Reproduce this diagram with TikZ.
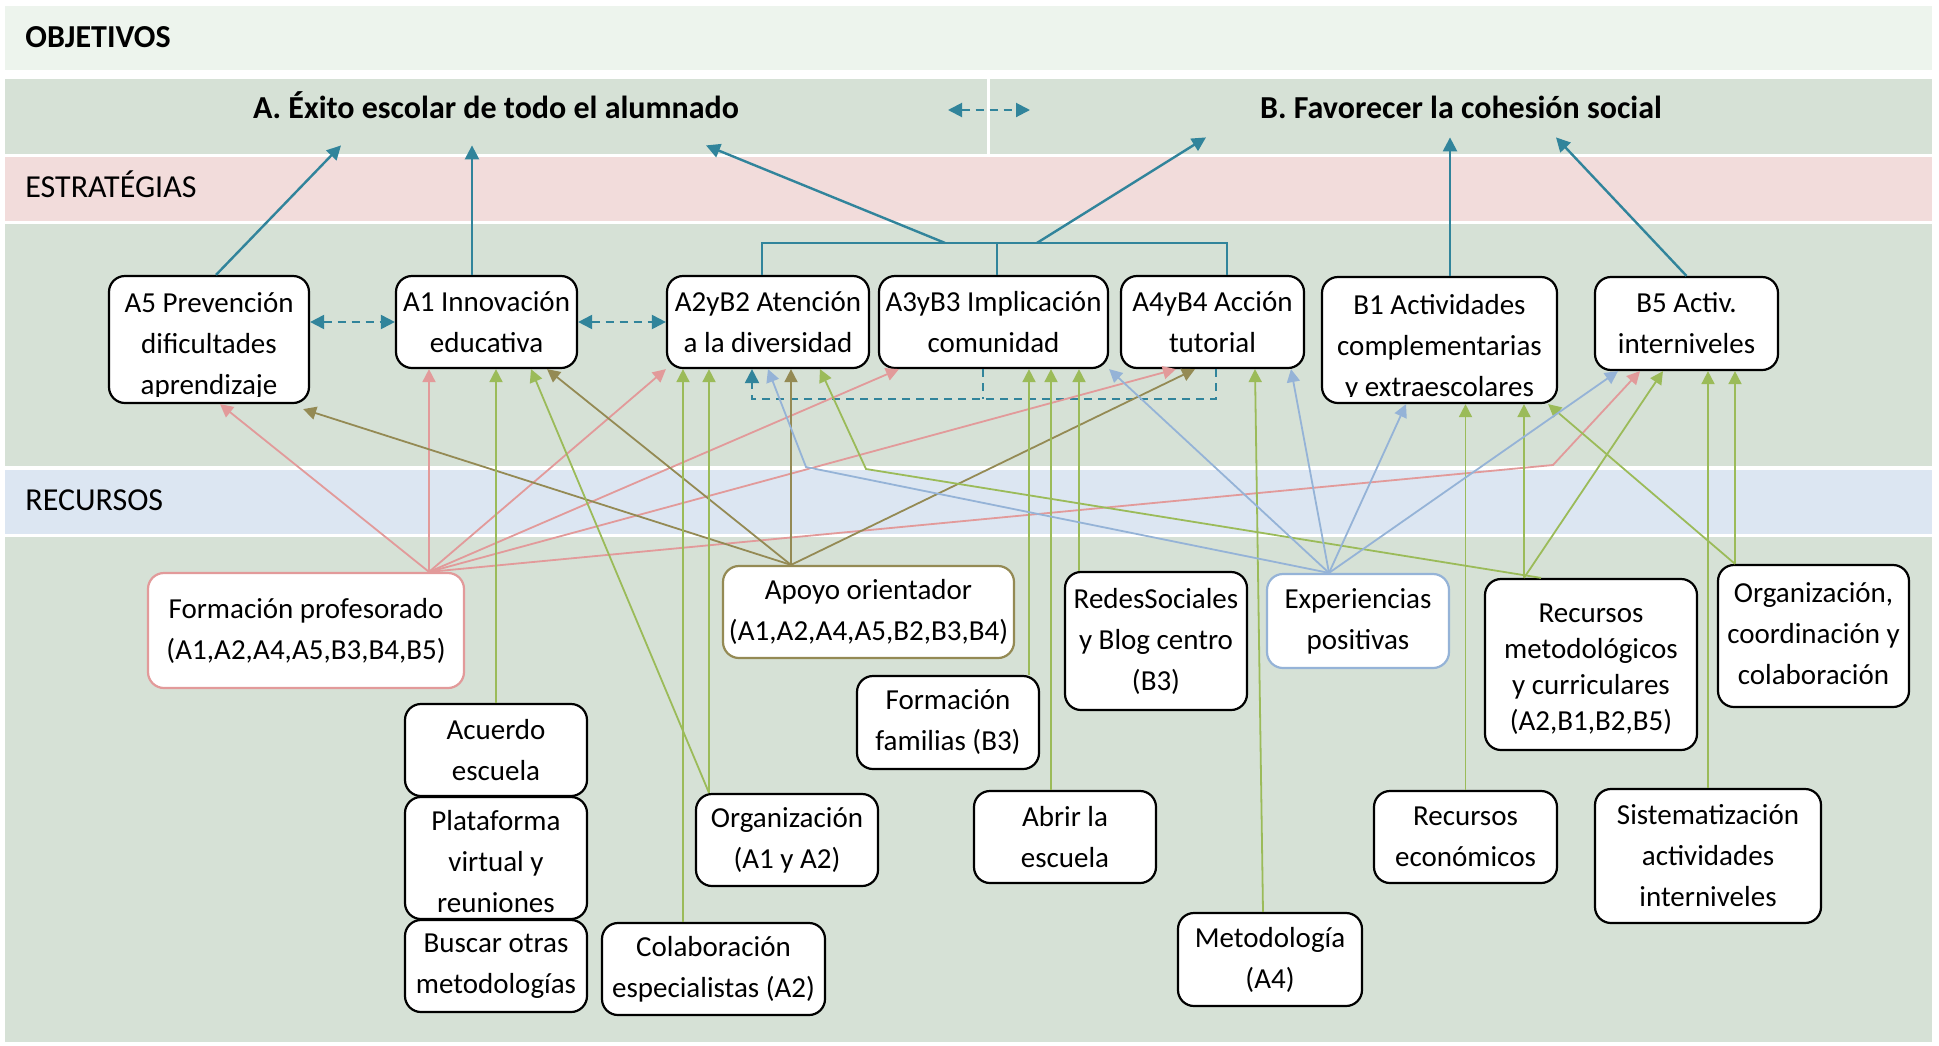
\documentclass[tikz,border=0pt]{standalone}
\usepackage{fontspec}
\setmainfont{Carlito}
\usetikzlibrary{arrows.meta,calc}

\definecolor{fondo}{HTML}{D6E1D6}
\definecolor{fondoclaro}{HTML}{EDF4ED}
\definecolor{rosado}{HTML}{F2DCDB}
\definecolor{celesteclaro}{HTML}{DCE6F2}
\definecolor{petroleo}{HTML}{31849B}
\definecolor{salmon}{HTML}{E29A9A}
\definecolor{oliva}{HTML}{948A54}
\definecolor{pasto}{HTML}{9BBB59}
\definecolor{cielo}{HTML}{95B3D7}

\newcommand{\cuerpo}{\fontsize{14.5pt}{20.5pt}\selectfont}
\newcommand{\rotulo}{\fontsize{16pt}{19pt}\selectfont}

\tikzset{
  caja/.style={draw=black, line width=1.1pt, fill=white, rounded corners=8pt, align=center, inner sep=0pt, font=\cuerpo},
  tam/.style 2 args={minimum width=#1*0.5pt, minimum height=#2*0.5pt},
  recorte/.style 2 args={path picture={
    \clip ([yshift=3.5pt]path picture bounding box.south west) rectangle (path picture bounding box.north east);
    \node[draw=none, fill=none, inner sep=0pt, align=center, font=\cuerpo] at ([yshift=#1]path picture bounding box.center) {#2};}},
  banda/.style={anchor=base west, inner sep=0pt, font=\rotulo},
  titulo/.style={anchor=base, inner sep=0pt, font=\rotulo\bfseries, text height=12pt},
  linobj/.style={draw=petroleo, line width=1.2pt},
  flobj/.style={linobj, -{Triangle[length=7pt,width=7pt]}},
  discont/.style={draw=petroleo, line width=1pt, dash pattern=on 4pt off 3pt},
  discontfl/.style={discont, -{Triangle[length=7pt,width=7pt]}},
  discontdoble/.style={discont, {Triangle[length=7pt,width=7pt]}-{Triangle[length=7pt,width=7pt]}},
  fl/.style={line width=0.9pt, -{Triangle[length=6.5pt,width=6.5pt]}},
  flrosa/.style={fl, draw=salmon},
  floliva/.style={fl, draw=oliva},
  flverde/.style={fl, draw=pasto},
  flceleste/.style={fl, draw=cielo}
}

\begin{document}
\begin{tikzpicture}[x=0.5pt,y=-0.5pt]
\useasboundingbox (0,0) rectangle (1939,1045);

\fill[fondoclaro] (5,6) rectangle (1932,70);
\fill[fondo] (5,79) rectangle (987,154);
\fill[fondo] (990,79) rectangle (1932,154);
\fill[rosado] (5,157) rectangle (1932,221);
\fill[fondo] (5,224) rectangle (1932,466);
\fill[celesteclaro] (5,470) rectangle (1932,534);
\fill[fondo] (5,537) rectangle (1932,1042);

\node[banda, font=\rotulo\bfseries] (obj) at (25,47) {OBJETIVOS};
\node[banda] (est) at (25,197) {ESTRATÉGIAS};
\node[banda] (rec) at (25,510) {RECURSOS};
\node[titulo, text depth=13.5pt] (ObjA) at (496,118) {A. Éxito escolar de todo el alumnado};
\node[titulo, text depth=9.5pt] (ObjB) at (1461,118) {B. Favorecer la cohesión social};

\node[caja, tam={200}{127}, recorte={-3.5pt}{A5 Prevención\\dificultades\\aprendizaje}] (A5) at (209,339.5) {};
\node[caja, tam={181}{92}] (A1) at (486.5,322) {A1 Innovación\\educativa};
\node[caja, tam={202}{92}] (A2) at (768,322) {A2yB2 Atención\\a la diversidad};
\node[caja, tam={229}{92}] (A3) at (993.5,322) {A3yB3 Implicación\\comunidad};
\node[caja, tam={183}{92}] (A4) at (1212.5,322) {A4yB4 Acción\\tutorial};
\node[caja, tam={235}{126}, recorte={-4pt}{B1 Actividades\\complementarias\\y extraescolares}] (B1) at (1439.5,340) {};
\node[caja, tam={183}{93}] (B5) at (1686.5,323.5) {B5 Activ.\\interniveles};

\node[caja, draw=salmon, tam={316}{115}] (Form) at (306,630.5) {Formación profesorado\\(A1,A2,A4,A5,B3,B4,B5)};
\node[caja, draw=oliva, tam={291}{92}] (Apoyo) at (868.5,612) {Apoyo orientador\\(A1,A2,A4,A5,B2,B3,B4)};
\node[caja, tam={182}{92}] (Acu) at (496,750) {Acuerdo\\escuela};
\node[caja, tam={182}{122}] (Plat) at (496,858) {\rule{0pt}{14pt}Plataforma\\virtual y\\reuniones};
\node[caja, tam={182}{92}] (Busc) at (496,966) {Buscar otras\\metodologías};
\node[caja, tam={223}{92}] (Colab) at (713.5,969) {Colaboración\\especialistas (A2)};
\node[caja, tam={182}{92}] (OrgA) at (787,840) {Organización\\(A1 y A2)};
\node[caja, tam={182}{93}] (FFam) at (948,722.5) {Formación\\familias (B3)};
\node[caja, tam={182}{138}] (Redes) at (1156,641) {RedesSociales\\y Blog centro\\(B3)};
\node[caja, draw=cielo, tam={182}{94}] (Exper) at (1358,621) {Experiencias\\positivas};
\node[caja, tam={212}{171}, font=\fontsize{14.5pt}{18pt}\selectfont] (RecMet) at (1591,664.5) {\rule{0pt}{14.3pt}Recursos\\metodológicos\\y curriculares\\(A2,B1,B2,B5)};
\node[caja, tam={191}{142}] (OrgCoord) at (1813.5,636) {Organización,\\coordinación y\\colaboración\rule[-2.5pt]{0pt}{2.5pt}};
\node[caja, tam={182}{92}] (Abrir) at (1065,837) {Abrir la\\escuela};
\node[caja, tam={183}{92}] (RecEco) at (1465.5,837) {Recursos\\económicos};
\node[caja, tam={226}{134}] (Sist) at (1708,856) {Sistematización\\actividades\\interniveles};
\node[caja, tam={184}{93}] (Metod) at (1270,959.5) {Metodología\\(A4)};

\draw[flobj] ($(A5.north)+(7,0)$) -- ($(ObjA.south)+(-155,0)$);
\draw[flobj] ($(A1.north)+(-14.5,0)$) -- ($(ObjA.south)+(-24,0)$);
\coordinate (barra) at ($(A3.north)+(3.5,-32)$);
\draw[linobj] ($(A2.north)+(-6,0)$) |- (barra) -| ($(A4.north)+(14.5,0)$);
\draw[linobj] ($(A3.north)+(3.5,0)$) -- (barra);
\draw[flobj] ($(barra)+(-52,0)$) -- ($(ObjA.south)+(210,0)$);
\draw[flobj] ($(barra)+(40,0)$) -- ($(ObjB.south)+(-255,0)$);
\draw[flobj] ($(B1.north)+(10.5,0)$) -- ($(ObjB.south)+(-11,0)$);
\draw[flobj] (B5.north) -- ($(ObjB.south)+(95,0)$);

\coordinate (dA) at (948,110);
\coordinate (dB) at (1030,110);
\draw[discontdoble] (dA) -- (dB);
\draw[discontdoble] (A5.east |- A1.west) -- (A1.west);
\draw[discontdoble] (A1.east) -- (A2.west);
\draw[discontfl] ($(A4.south)+(3.5,0)$) -- ++(0,30) -| ($(A2.south)+(-16,0)$);
\draw[discont] ($(A3.south)+(-10.5,0)$) -- ++(0,30);

\coordinate (fp) at ($(Form.north)+(123,0)$);
\coordinate (codoR) at (1553,465);
\draw[flrosa] (fp) -- ($(A5.south)+(11,0)$);
\draw[flrosa] (fp) -- (fp |- A1.south);
\draw[flrosa] (fp) -- (A2.south west);
\draw[flrosa] (fp) -- ($(A3.south)+(-94.5,0)$);
\draw[flrosa] (fp) -- ($(A4.south)+(-36.5,0)$);
\draw[flrosa] (fp) -- (codoR) -- ($(B5.south)+(-46.5,0)$);

\coordinate (ao) at ($(Apoyo.north)+(-77.5,0)$);
\draw[floliva] (ao) -- ($(A5.south east)+(-7,5)$);
\draw[floliva] (ao) -- ($(A1.south)+(60.5,0)$);
\draw[floliva] (ao) -- (ao |- A2.south);
\draw[floliva] (ao) -- ($(A4.south)+(-17.5,0)$);

\draw[flverde] (Acu.north) -- (Acu.north |- A1.south);
\coordinate (oa) at ($(OrgA.north)+(-78,0)$);
\draw[flverde] (oa) -- (oa |- A2.south);
\draw[flverde] (oa) -- ($(A1.south)+(44.5,0)$);
\coordinate (co) at ($(Colab.north)+(-30.5,0)$);
\draw[flverde] (co) -- (co |- A2.south);
\coordinate (rm) at ($(RecMet.north)+(-67,0)$);
\coordinate (codoV) at (866,469);
\draw[flverde] (rm) -- (rm |- B1.south);
\draw[flverde] (rm) -- ($(B5.south)+(-23.5,0)$);
\draw[flverde] ($(RecMet.north)+(-50,0)$) -- (codoV) -- ($(A2.south)+(52,0)$);
\coordinate (oc) at ($(OrgCoord.north)+(-78.5,0)$);
\draw[flverde] (oc) -- (oc |- B5.south);
\draw[flverde] (oc) -- ($(B1.south east)+(-10,0)$);
\draw[flverde] (Sist.north) -- (Sist.north |- B5.south);
\draw[flverde] (RecEco.north) -- (RecEco.north |- B1.south);
\coordinate (ab) at ($(Abrir.north)+(-14,0)$);
\draw[flverde] (ab) -- (ab |- A3.south);
\coordinate (ff) at ($(FFam.north)+(81,0)$);
\draw[flverde] (ff) -- (ff |- A3.south);
\coordinate (rs) at ($(Redes.north)+(-77,0)$);
\draw[flverde] (rs) -- (rs |- A3.south);
\draw[flverde] ($(Metod.north)+(-7,0)$) -- ($(A4.south)+(42.5,0)$);

\coordinate (ep) at ($(Exper.north)+(-29,0)$);
\coordinate (codoC) at (806,467);
\draw[flceleste] (ep) -- (codoC) -- (A2.south);
\draw[flceleste] (ep) -- (A3.south east);
\draw[flceleste] (ep) -- ($(A4.south)+(78.5,0)$);
\draw[flceleste] (ep) -- ($(B1.south)+(-33.5,0)$);
\draw[flceleste] (ep) -- ($(B5.south)+(-68.5,0)$);
\end{tikzpicture}
\end{document}
